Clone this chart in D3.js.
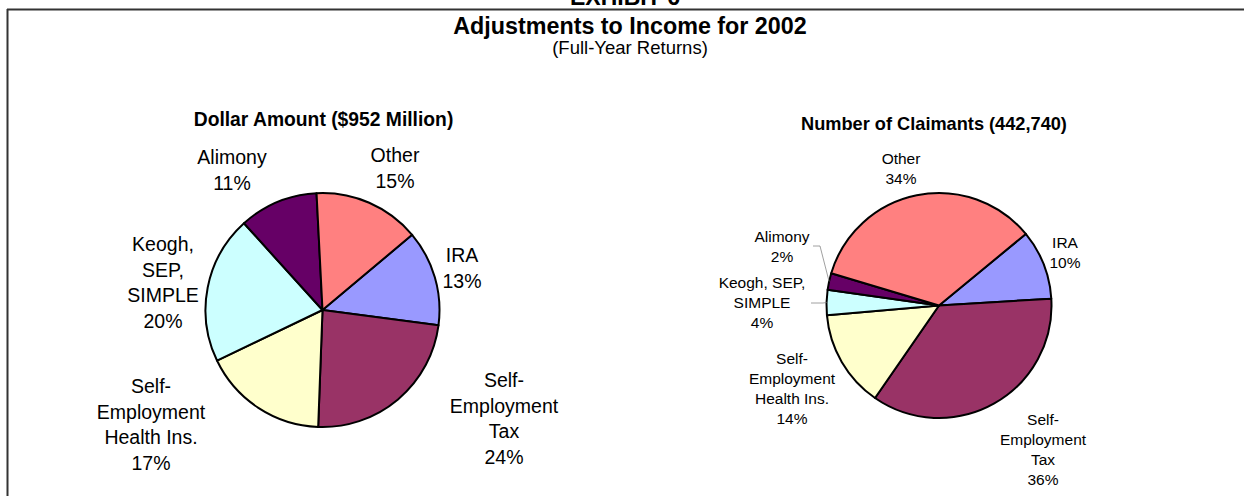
<!DOCTYPE html>
<html>
<head>
<meta charset="utf-8">
<script src="https://cdn.jsdelivr.net/npm/d3@7"></script>
<style>
  body { margin: 0; background: #fff; }
  text { font-family: "Liberation Sans", Arial, sans-serif; fill: #000; }
</style>
</head>
<body>
<div id="chart"></div>
<script>
// categories in drawing order (clockwise, first slice starts near 50 deg)
const categories = ["IRA", "Self-Employment Tax", "Self-Employment Health Ins.", "Keogh, SEP, SIMPLE", "Alimony", "Other"];
const colors = ["#9999FF", "#993366", "#FFFFCC", "#CCFFFF", "#660066", "#FF8080"];

// shares in percent
const dollarValues = [13.2, 23.5, 17.3, 20.4, 10.9, 14.7];
const claimantValues = [10.0, 35.6, 14.0, 3.6, 2.4, 34.4];

const dollarLabels = [["IRA"], ["Self-", "Employment", "Tax"], ["Self-", "Employment", "Health Ins."], ["Keogh,", "SEP,", "SIMPLE"], ["Alimony"], ["Other"]];
const claimantLabels = [["IRA"], ["Self-", "Employment", "Tax"], ["Self-", "Employment", "Health Ins."], ["Keogh, SEP,", "SIMPLE"], ["Alimony"], ["Other"]];

const width = 1244, height = 496;

const svg = d3.select("#chart").append("svg")
    .attr("width", width)
    .attr("height", height);

// frame (top and left edge only)
svg.append("line").attr("x1", 7).attr("x2", width).attr("y1", 9.5).attr("y2", 9.5)
    .attr("stroke", "#333").attr("stroke-width", 2);
svg.append("line").attr("x1", 7.5).attr("x2", 7.5).attr("y1", 9).attr("y2", height)
    .attr("stroke", "#333").attr("stroke-width", 2);

// exhibit heading is cut off at the top edge, as in the original
svg.append("text").attr("x", 625).attr("y", 5).attr("text-anchor", "middle")
    .attr("font-size", "23px").attr("font-weight", "bold").text("EXHIBIT 6");
svg.append("text").attr("x", 630).attr("y", 34).attr("text-anchor", "middle")
    .attr("font-size", "23.3px").attr("font-weight", "bold").text("Adjustments to Income for 2002");
svg.append("text").attr("x", 630).attr("y", 54).attr("text-anchor", "middle")
    .attr("font-size", "18.5px").text("(Full-Year Returns)");

function drawPie(opts) {
    const g = svg.append("g").attr("transform", `translate(${opts.cx},${opts.cy})`);

    g.append("text")
        .attr("x", opts.titleDx).attr("y", opts.titleDy)
        .attr("text-anchor", "middle")
        .attr("font-size", opts.titleSize + "px")
        .attr("font-weight", "bold")
        .text(opts.title);

    const start = opts.startDeg * Math.PI / 180;
    const pie = d3.pie().sort(null).value(d => d)
        .startAngle(start).endAngle(start + 2 * Math.PI);
    const arc = d3.arc().innerRadius(0).outerRadius(opts.r);
    const arcs = pie(opts.values);

    g.selectAll("path.slice")
        .data(arcs)
        .enter()
        .append("path")
        .attr("class", "slice")
        .attr("d", arc)
        .attr("fill", (d, i) => colors[i])
        .attr("stroke", "#000")
        .attr("stroke-width", 2)
        .attr("stroke-linejoin", "round");

    arcs.forEach((d, i) => {
        const pos = opts.labelPos[i];
        const lines = opts.labels[i].concat([Math.round(d.data) + "%"]);
        const t = g.append("text")
            .attr("text-anchor", "middle")
            .attr("font-size", opts.labelSize + "px");
        lines.forEach((line, k) => {
            t.append("tspan")
                .attr("x", pos[0])
                .attr("y", pos[1] + k * opts.lineH)
                .text(line);
        });

        // leader line for small slices
        if (pos[2]) {
            const mid = (d.startAngle + d.endAngle) / 2;
            const ex = opts.r * Math.sin(mid), ey = -opts.r * Math.cos(mid);
            const [sx, sy, kx] = pos[2];
            g.append("polyline")
                .attr("points", `${sx},${sy} ${kx},${sy} ${ex},${ey}`)
                .attr("fill", "none")
                .attr("stroke", "#888")
                .attr("stroke-width", 0.8);
        }
    });
}

drawPie({
    cx: 322.5, cy: 310, r: 117, startDeg: 50,
    values: dollarValues, labels: dollarLabels,
    title: "Dollar Amount ($952 Million)", titleDx: 1, titleDy: -184, titleSize: 19.3,
    labelSize: 19.5, lineH: 25.5,
    labelPos: [[139.5, -48], [181.5, 77], [-171.5, 83], [-159.5, -59], [-90.5, -146], [72.5, -148]]
});

drawPie({
    cx: 939, cy: 305.5, r: 112.5, startDeg: 50.5,
    values: claimantValues, labels: claimantLabels,
    title: "Number of Claimants (442,740)", titleDx: -5, titleDy: -176, titleSize: 18.2,
    labelSize: 15.5, lineH: 20,
    labelPos: [[126, -57.5], [104, 119.5], [-147, 58.5], [-177, -17.5, [-128, -2.5, -116]],
               [-157, -63.5, [-126, -59.5, -119]], [-38, -141.5]]
});
</script>
</body>
</html>
